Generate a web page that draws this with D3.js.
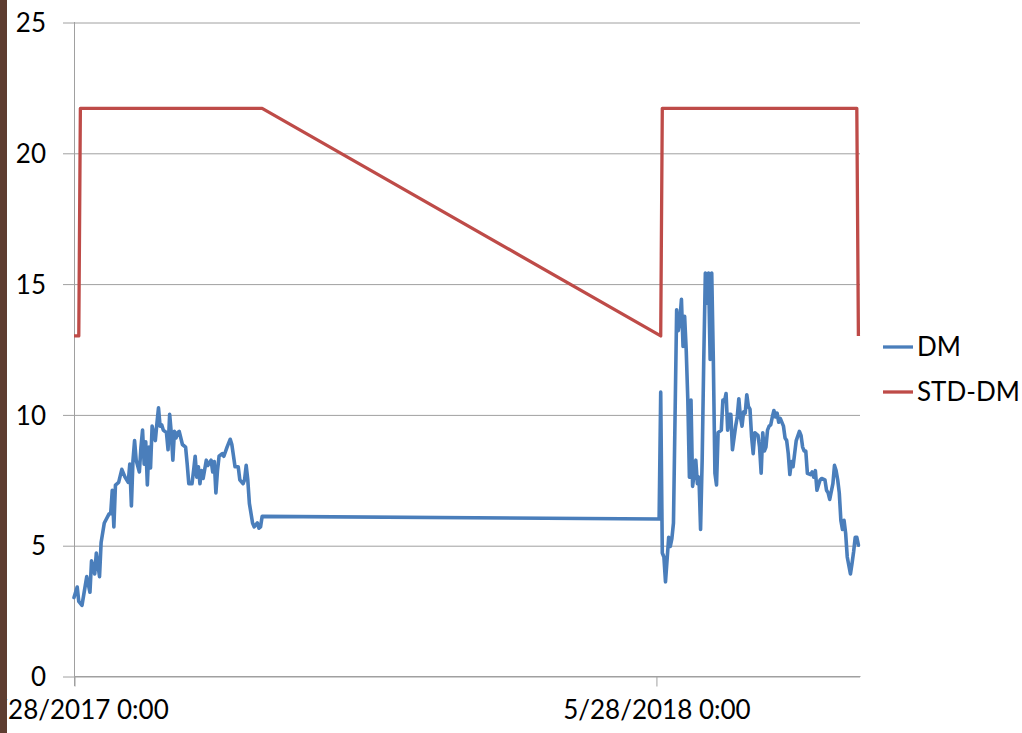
<!DOCTYPE html>
<html>
<head>
<meta charset="utf-8">
<script src="https://cdn.jsdelivr.net/npm/d3@7"></script>
<style>
  html, body { margin: 0; padding: 0; background: #ffffff; }
  svg { display: block; }
  text { font-family: Lato, "Open Sans", "Liberation Sans", sans-serif; fill: #000; }
</style>
</head>
<body>
<svg id="chart" width="1022" height="733"></svg>
<script>
// ---- data (days counted from the first reading, 5/28/2017) ----
const startDate = "2017-05-28";
const endDay = 493;

const dmDays2017 = [0,2,3,5,8,10,11,13,14,16,17,19,22,23,24,25,26,28,30,32,34,35,36,37,38,39,41,42,43,44,45,46,47,48,49,51,52,53,54,55,56,58,59,60,61,62,63,64,65,66,68,70,71,72,74,75,76,77,78,79,80,81,83,84,86,87,88,89,90,91,93,94,96,97,98,99,101,103,104,106,107,108,109,110,112,113,115,116,117,118];
const dmValues2017 = [3.0,3.4,2.85,2.7,3.8,3.2,4.4,3.9,4.7,3.8,5.1,5.85,6.2,6.2,7.1,5.7,7.3,7.4,7.9,7.6,7.4,8.1,6.5,8.25,9.0,8.25,7.8,8.75,9.4,8.1,8.95,7.3,8.75,7.95,9.55,9.0,9.65,10.25,9.55,9.6,9.4,9.3,8.65,10.0,9.3,8.25,9.35,9.1,9.3,9.35,8.85,8.75,8.1,7.35,7.35,7.85,8.4,7.6,8.0,7.35,7.85,7.55,8.25,8.05,8.25,7.8,8.2,7.0,7.85,8.4,8.5,8.4,8.75,8.9,9.05,8.85,8.0,8.0,7.5,7.35,7.5,8.05,7.5,6.6,5.85,5.7,5.85,5.65,5.7,6.1];

const dmDays2018 = [367,368,369,370,371,373,374,375,376,378,379,380,381,382,383,384,385,386,387,388,389,390,391,392,393,394,395,396,397,398,399,400,401,402,403,404,406,407,408,409,410,411,412,413,415,416,417,418,419,420,421,422,423,424,425,426,427,429,430,431,432,433,434,435,436,437,438,439,440,441,442,443,445,446,447,448,449,450,451,452,453,455,456,457,458,459,460,462,463,464,465,466,468,469,471,472,473,474,476,477,478,479,480,481,482,483,484,485,487,488,489,490,491,492];
const dmValues2018 = [6.0,10.85,4.7,4.55,3.6,5.3,4.95,5.25,5.85,14.0,13.2,13.6,14.4,12.6,13.75,12.45,10.55,7.6,10.55,7.25,7.75,8.25,7.35,7.6,5.6,8.25,12.1,15.4,14.25,15.4,12.1,15.4,12.1,7.75,7.3,9.3,9.4,10.55,10.5,10.8,9.4,10.0,10.0,8.65,9.55,9.9,10.6,9.9,9.55,10.1,10.05,10.75,10.3,10.2,9.15,8.5,9.3,9.2,8.75,7.75,9.3,8.6,8.75,9.4,9.55,9.6,9.9,10.15,9.9,10.05,9.7,9.85,9.55,9.1,9.0,8.5,7.7,8.2,8.0,8.5,9.0,9.35,9.2,8.75,8.6,8.6,7.75,7.7,7.8,7.6,7.85,7.1,7.5,7.55,7.5,7.1,7.0,6.75,7.35,8.05,7.85,7.5,7.0,5.95,5.6,5.95,5.45,4.55,3.9,4.3,4.75,5.3,5.3,5.0];

const stdDays = [0,3,4,118,368,369,491,492];
const stdValues = [13,13,21.7,21.7,13,21.7,21.7,13];

const yTicks = [0,5,10,15,20,25];
const xTickDates = ["2017-05-28","2018-05-28"];
const seriesNames = ["DM","STD-DM"];
const seriesColors = ["#4a7ebb","#be4b48"];

// ---- build ----
const start = new Date(startDate + "T00:00:00Z");
const toDate = d => d3.utcDay.offset(start, d);
const dmData = dmDays2017.map((d,i)=>({date:toDate(d), v:dmValues2017[i]}))
  .concat(dmDays2018.map((d,i)=>({date:toDate(d), v:dmValues2018[i]})));
const stdData = stdDays.map((d,i)=>({date:toDate(d), v:stdValues[i]}));

const svg = d3.select("#chart");
const plot = {left:74, right:860, top:22, bottom:676};

const x = d3.scaleUtc().domain([start, toDate(endDay)]).range([plot.left, plot.right]);
const y = d3.scaleLinear().domain([0,25]).range([plot.bottom, plot.top]);

// gridlines + y axis ticks
const yAxis = d3.axisLeft(y).tickValues(yTicks).tickSize(-(plot.right - plot.left)).tickSizeOuter(0).tickPadding(18);
const gy = svg.append("g").attr("transform", `translate(${plot.left},0.5)`).call(yAxis);
gy.select(".domain").remove();
gy.selectAll(".tick line").attr("stroke", "#a0a0a0").attr("stroke-width", 1).attr("x1", -11);
gy.selectAll(".tick text").attr("font-size", 26).attr("font-family", "Lato, 'Open Sans', sans-serif").attr("fill", "#000").attr("x", -28).attr("dy", "0.35em");

// y axis line
svg.append("line").attr("x1", plot.left + 0.5).attr("x2", plot.left + 0.5)
  .attr("y1", plot.top).attr("y2", plot.bottom + 10).attr("stroke", "#a0a0a0");

// x axis
const fmt = d => `${d.getUTCMonth()+1}/${d.getUTCDate()}/${d.getUTCFullYear()} 0:00`;
const xAxis = d3.axisBottom(x).tickValues(xTickDates.map(s=>new Date(s+"T00:00:00Z")))
  .tickFormat(fmt).tickSize(10).tickSizeOuter(0).tickPadding(14);
const gx = svg.append("g").attr("transform", `translate(0.5,${plot.bottom + 0.5})`).call(xAxis);
gx.select(".domain").attr("stroke", "#a0a0a0").attr("d", `M${plot.left},0H${plot.right}`);
gx.selectAll(".tick line").attr("stroke", "#a0a0a0");
gx.selectAll(".tick text").attr("font-size", 26).attr("font-family", "Lato, 'Open Sans', sans-serif").attr("fill", "#000");

// lines
const line = d3.line().x(d=>x(d.date)).y(d=>y(d.v));
svg.append("path").datum(dmData).attr("d", line).attr("fill","none")
  .attr("stroke", seriesColors[0]).attr("stroke-width", 3.6).attr("stroke-linejoin","round").attr("stroke-linecap","round");
svg.append("path").datum(stdData).attr("d", line).attr("fill","none")
  .attr("stroke", seriesColors[1]).attr("stroke-width", 3.3).attr("stroke-linejoin","round");

// legend
const legY = [347, 392];
seriesNames.forEach((name, i) => {
  const g = svg.append("g");
  g.append("line").attr("x1", 883).attr("x2", 913).attr("y1", legY[i]).attr("y2", legY[i])
    .attr("stroke", seriesColors[i]).attr("stroke-width", 3.3);
  g.append("text").attr("x", 917).attr("y", legY[i]).attr("dy","0.35em").attr("font-size", 26).text(name);
});

// left brown edge
svg.append("rect").attr("x", 0).attr("y", 0).attr("width", 7).attr("height", 733).attr("fill", "#5e3d30");
</script>
</body>
</html>
